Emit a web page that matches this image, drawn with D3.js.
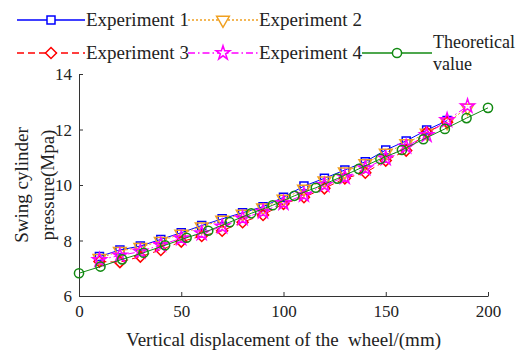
<!DOCTYPE html>
<html><head><meta charset="utf-8">
<script src="https://cdn.jsdelivr.net/npm/d3@7"></script>
<style>body{margin:0;background:#fff}svg{display:block}</style>
</head><body>
<script>
const expX = [10,20,30,40,50,60,70,80,90,100,110,120,130,140,150,160,170,180];
const expX19 = [10,20,30,40,50,60,70,80,90,100,110,120,130,140,150,160,170,180,190];
const exp1 = [7.42,7.66,7.80,8.04,8.28,8.54,8.78,9.00,9.22,9.56,9.96,10.24,10.54,10.84,11.26,11.59,11.98,12.32];
const exp2 = [7.36,7.62,7.76,7.98,8.24,8.50,8.74,8.96,9.18,9.50,9.86,10.16,10.48,10.78,11.16,11.50,11.88,12.26,12.78];
const exp3 = [7.24,7.22,7.42,7.66,7.96,8.16,8.35,8.66,8.92,9.32,9.56,9.88,10.24,10.44,10.88,11.24,11.90,12.26];
const exp4 = [7.30,7.46,7.60,7.84,8.08,8.26,8.50,8.80,9.04,9.35,9.64,10.00,10.28,10.60,10.96,11.38,11.80,12.34,12.84];
const theoX = [0,10.5,21.1,31.6,42.1,52.6,63.2,73.7,84.2,94.7,105.3,115.8,126.3,136.8,147.4,157.9,168.4,178.9,189.5,200];
const theoY = [6.82,7.06,7.32,7.56,7.83,8.10,8.35,8.66,8.98,9.27,9.61,9.90,10.23,10.58,10.94,11.26,11.65,12.02,12.41,12.78];
const xTicks = [0,50,100,150,200];
const yTicks = [6,8,10,12,14];
const seriesNames = ["Experiment 1","Experiment 2","Experiment 3","Experiment 4","Theoretical value"];

const W=517,H=354;
const svg=d3.select("body").append("svg").attr("width",W).attr("height",H);
const x=d3.scaleLinear().domain([0,200]).range([79,488]);
const y=d3.scaleLinear().domain([6,14]).range([296,74]);
const font="'Liberation Serif','Times New Roman',serif";
const axisCol="#333";

// axes
const gx=svg.append("g").attr("transform",`translate(0,${y(6)})`)
  .call(d3.axisBottom(x).tickValues(xTicks).tickSizeInner(-4).tickSizeOuter(0).tickPadding(9));
const gy=svg.append("g").attr("transform",`translate(${x(0)},0)`)
  .call(d3.axisLeft(y).tickValues(yTicks).tickSizeInner(-4).tickSizeOuter(0).tickPadding(7));
[gx,gy].forEach(g=>{
  g.selectAll("path,line").attr("stroke",axisCol).attr("stroke-width",1);
  g.selectAll("text").attr("font-family",font).attr("font-size",17).attr("fill","#222");
});
gy.selectAll(".tick text").attr("dy","0.35em");

svg.append("text").attr("x",x(100)).attr("y",346).attr("text-anchor","middle")
  .attr("font-family",font).attr("font-size",19).attr("fill","#222")
  .attr("xml:space","preserve").text("Vertical displacement of the  wheel/(mm)");
const yl=svg.append("g").attr("transform",`translate(0,${(y(6)+y(14))/2}) rotate(-90)`);
yl.append("text").attr("x",0).attr("y",28).attr("text-anchor","middle")
  .attr("font-family",font).attr("font-size",19).attr("fill","#222").text("Swing cylinder");
yl.append("text").attr("x",0).attr("y",54).attr("text-anchor","middle")
  .attr("font-family",font).attr("font-size",19).attr("fill","#222").text("pressure(Mpa)");

// marker helpers
const sym={
  square:d3.symbol(d3.symbolSquare,64)(),
  tri:d3.symbol(d3.symbolTriangle,70)(),
  diamond:"M0,-5.5L5.5,0L0,5.5L-5.5,0Z",
  star:d3.symbol(d3.symbolStar,60)(),
  circle:d3.symbol(d3.symbolCircle,66)()
};
const styles=[
  {color:"#0000ff",dash:null,sym:"square",rot:0},
  {color:"#f0a020",dash:"2,2",sym:"tri",rot:180},
  {color:"#ff0000",dash:"7,4",sym:"diamond",rot:0},
  {color:"#ff00ff",dash:"7,3,1.5,3",sym:"star",rot:0},
  {color:"#128a12",dash:null,sym:"circle",rot:0}
];
const data=[
  expX.map((d,i)=>[d,exp1[i]]),
  expX19.map((d,i)=>[d,exp2[i]]),
  expX.map((d,i)=>[d,exp3[i]]),
  expX19.map((d,i)=>[d,exp4[i]]),
  theoX.map((d,i)=>[d,theoY[i]])
];
const line=d3.line().x(d=>x(d[0])).y(d=>y(d[1]));
data.forEach((pts,si)=>{
  const st=styles[si];
  const g=svg.append("g");
  g.append("path").attr("d",line(pts)).attr("fill","none").attr("stroke",st.color)
    .attr("stroke-width",1).attr("stroke-dasharray",st.dash);
  g.selectAll("path.m").data(pts).join("path").attr("class","m")
    .attr("d",sym[st.sym]).attr("fill","none").attr("stroke",st.color).attr("stroke-width",1.5)
    .attr("transform",d=>`translate(${x(d[0])},${y(d[1])}) rotate(${st.rot})`);
});

// legend
const leg=[
  {x0:17,x1:85,y:20,t:"Experiment 1"},
  {x0:188,x1:258,y:20,t:"Experiment 2"},
  {x0:17,x1:85,y:53,t:"Experiment 3"},
  {x0:188,x1:258,y:53,t:"Experiment 4"},
  {x0:362,x1:432,y:53,t:"Theoretical value"}
];
leg.forEach((l,i)=>{
  const st=styles[i];
  const g=svg.append("g");
  g.append("line").attr("x1",l.x0).attr("x2",l.x1).attr("y1",l.y).attr("y2",l.y)
    .attr("stroke",st.color).attr("stroke-width",1.3).attr("stroke-dasharray",st.dash);
  g.append("path").attr("d",sym[st.sym]).attr("fill","#fff").attr("stroke",st.color).attr("stroke-width",1.5)
    .attr("transform",`translate(${(l.x0+l.x1)/2},${l.y}) rotate(${st.rot})`);
  if(i<4){
    g.append("text").attr("x",l.x1+1).attr("y",l.y).attr("dy","0.33em")
      .attr("font-family",font).attr("font-size",19).attr("fill","#222").text(seriesNames[i]);
  } else {
    const t=g.append("text").attr("font-family",font).attr("font-size",18).attr("fill","#222");
    t.append("tspan").attr("x",l.x1+1).attr("y",42).attr("dy","0.33em").text("Theoretical");
    t.append("tspan").attr("x",l.x1+1).attr("y",64).attr("dy","0.33em").text("value");
  }
});
</script>
</body></html>
